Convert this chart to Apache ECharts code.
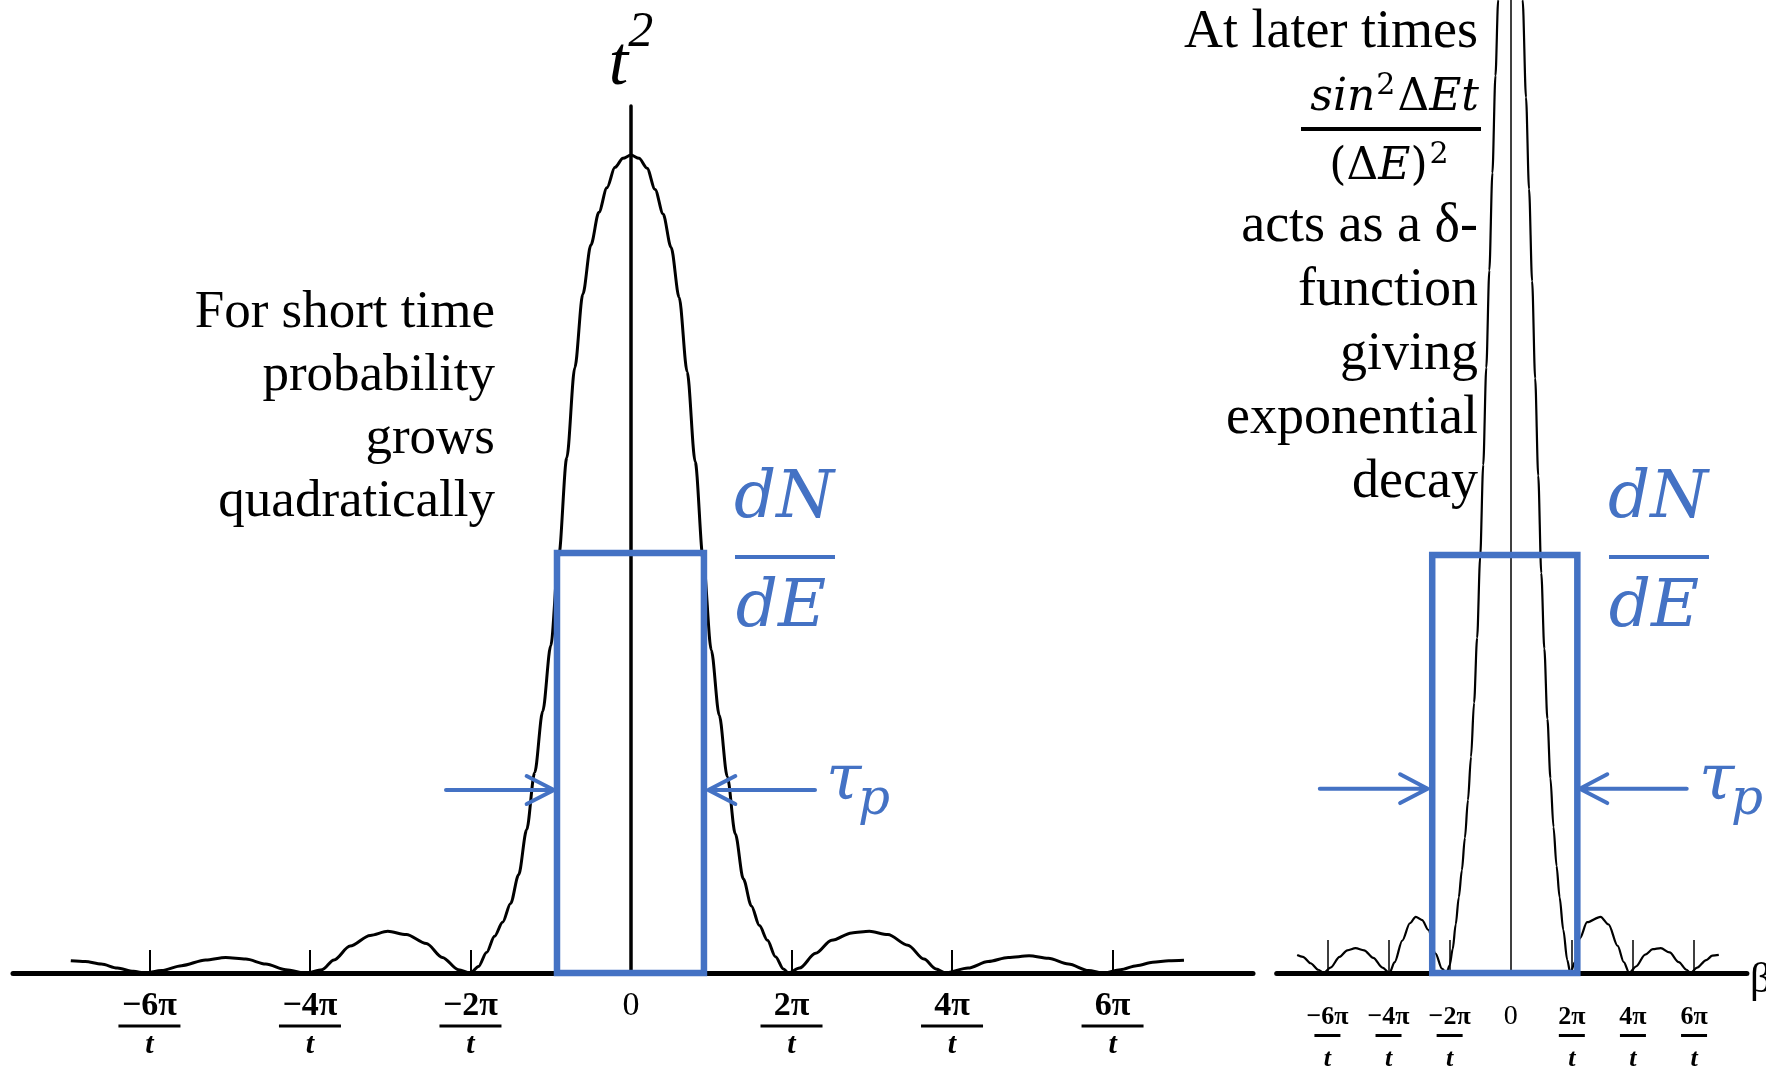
<!DOCTYPE html>
<html><head><meta charset="utf-8">
<script src="https://cdn.jsdelivr.net/npm/echarts@6/dist/echarts.min.js"></script>
<style>html,body{margin:0;padding:0;background:#fff}#c{width:1766px;height:1077px}</style>
</head><body><div id="c"></div>
<script>
// energy offset in units of pi/t, and relative probability
const leftE = [-6.98,-6.8,-6.6,-6.4,-6.2,-6.05,-5.85,-5.6,-5.3,-5.05,-4.8,-4.55,-4.3,-4.05,-3.85,-3.7,-3.5,-3.25,-3.03,-2.8,-2.55,-2.35,-2.15,-2.0,-1.9,-1.8,-1.7,-1.6,-1.5,-1.4,-1.3,-1.2,-1.1,-1.0,-0.9,-0.8,-0.7,-0.6,-0.5,-0.4,-0.3,-0.2,-0.1,0,0.1,0.2,0.3,0.4,0.5,0.6,0.7,0.8,0.9,1.0,1.1,1.2,1.3,1.4,1.5,1.6,1.7,1.8,1.9,1.96,2.1,2.3,2.5,2.75,2.97,3.2,3.45,3.65,3.8,3.92,4.2,4.45,4.7,4.96,5.2,5.45,5.7,5.88,6.1,6.3,6.5,6.7,6.89];
const leftP = [0.015,0.014,0.011,0.006,0.002,0,0.003,0.009,0.016,0.019,0.017,0.011,0.004,0,0.004,0.016,0.033,0.046,0.051,0.047,0.036,0.019,0.004,0,0.008,0.025,0.045,0.062,0.085,0.12,0.175,0.245,0.32,0.40,0.51,0.63,0.74,0.83,0.89,0.93,0.96,0.985,0.996,1.0,0.996,0.984,0.958,0.928,0.887,0.826,0.735,0.625,0.505,0.395,0.315,0.24,0.17,0.115,0.082,0.058,0.04,0.02,0.005,0,0.006,0.024,0.040,0.049,0.051,0.047,0.034,0.017,0.005,0,0.006,0.014,0.019,0.021,0.018,0.011,0.003,0,0.004,0.009,0.013,0.015,0.0156];

const rightE = [-6.99,-6.8,-6.55,-6.3,-6.12,-5.9,-5.6,-5.35,-5.08,-4.8,-4.5,-4.2,-3.97,-3.8,-3.55,-3.3,-3.11,-2.9,-2.7,-2.46,-2.25,-2.1,-2.0,-1.9,-1.8,-1.7,-1.6,-1.5,-1.4,-1.3,-1.2,-1.1,-1.0,-0.9,-0.8,-0.7,-0.6,-0.5,-0.41,0,0.39,0.5,0.6,0.7,0.8,0.9,1.0,1.1,1.2,1.3,1.4,1.5,1.6,1.72,1.85,1.95,2.1,2.26,2.5,2.94,3.2,3.5,3.7,3.88,4.1,4.4,4.65,4.91,5.2,5.5,5.75,5.89,6.1,6.4,6.6,6.81];
const rightP = [0.0167,0.015,0.009,0.003,0,0.005,0.015,0.021,0.023,0.021,0.014,0.005,0,0.010,0.030,0.046,0.052,0.049,0.040,0.018,0.004,0,0.007,0.022,0.045,0.07,0.095,0.125,0.16,0.20,0.25,0.31,0.385,0.47,0.56,0.65,0.74,0.83,0.90,1.1,0.90,0.81,0.725,0.64,0.55,0.46,0.37,0.30,0.235,0.18,0.135,0.099,0.07,0.04,0.012,0,0.01,0.032,0.047,0.052,0.045,0.025,0.010,0,0.006,0.017,0.022,0.023,0.019,0.010,0.003,0,0.005,0.012,0.016,0.0167];

const tickValues = [-6,-4,-2,0,2,4,6];
const tickLabels = ['−6π','−4π','−2π','0','2π','4π','6π'];
const tickDenom = 't';

// the dN/dE window and the tau_p arrows, in axis units
const leftBoxE = [-0.922, 0.909], leftBoxP = 0.5135;
const rightBoxE = [-2.57, 2.18], rightBoxP = 0.3866;
const leftArrowP = 0.2237, leftArrowHead = 0.0171;
const leftArrowInE = [-2.305, -0.96, -1.30], leftArrowOutE = [2.293, 0.963, 1.30];
const rightArrowP = 0.1705, rightArrowHead = 0.0133;
const rightArrowInE = [-6.25, -2.72, -3.62], rightArrowOutE = [5.76, 2.26, 3.16];

const BLUE = '#4472C4';
const zip = (a, b) => a.map((v, i) => [v, b[i]]);
const boxData = (E, P) => { const m = (E[0] + E[1]) / 2; return [[m,0],[E[0],0],[E[0],P],[E[1],P],[E[1],0],[m,0]]; };
const arrowData = (A, P, d) => [[A[0],P],[A[1],P],[A[2],P+d],[A[1],P],[A[2],P-d]];

function labelFmt(v) {
  const i = tickValues.indexOf(v);
  if (i < 0) return '';
  if (v === 0) return '{z|' + tickLabels[i] + '}';
  return '{n|' + tickLabels[i] + '}\n{b| }\n{d|' + tickDenom + '}';
}

const serif = '"Liberation Serif", "Times New Roman", serif';
const mathF = '"DejaVu Serif", serif';

const chart = echarts.init(document.getElementById('c'), null, {renderer: 'canvas'});
chart.setOption({
  animation: false,
  backgroundColor: '#fff',
  grid: [
    {left: 13, top: 106, width: 1240, height: 867, containLabel: false, outerBoundsMode: 'none'},
    {left: 1276.7, top: 0, width: 470.2, height: 973, containLabel: false, outerBoundsMode: 'none'}
  ],
  xAxis: [
    {type: 'value', gridIndex: 0, min: -7.7, max: 7.75,
     axisLine: {lineStyle: {color: '#000', width: 5}},
     axisTick: {show: true, customValues: [-6,-4,-2,2,4,6], inside: true, length: 23, lineStyle: {color: '#000', width: 2}},
     axisLabel: {customValues: tickValues, formatter: labelFmt, margin: 18, color: '#000',
       rich: {
         n: {fontFamily: serif, fontWeight: 'bold', fontSize: 34, lineHeight: 31, color: '#000'},
         z: {fontFamily: serif, fontSize: 34, lineHeight: 31, color: '#000'},
         b: {width: 62, height: 3, backgroundColor: '#000', fontSize: 1, lineHeight: 8},
         d: {fontFamily: serif, fontWeight: 'bold', fontStyle: 'italic', fontSize: 30, lineHeight: 30, color: '#000'}
       }},
     splitLine: {show: false}},
    {type: 'value', gridIndex: 1, min: -7.66, max: 7.73,
     name: '{b|β}', nameLocation: 'end', nameGap: 3,
     nameTextStyle: {rich: {b: {fontFamily: serif, fontSize: 42, lineHeight: 42, padding: [16,0,0,0], color: '#000'}}},
     axisLine: {lineStyle: {color: '#000', width: 5}},
     axisTick: {show: true, customValues: [-6,-4,-2,2,4,6], inside: true, length: 33, lineStyle: {color: '#000', width: 1.5}},
     axisLabel: {customValues: tickValues, formatter: labelFmt, margin: 31, color: '#000',
       rich: {
         n: {fontFamily: serif, fontWeight: 'bold', fontSize: 26, lineHeight: 26, color: '#000'},
         z: {fontFamily: serif, fontSize: 28, lineHeight: 26, color: '#000'},
         b: {width: 26, height: 3, backgroundColor: '#000', fontSize: 1, lineHeight: 11},
         d: {fontFamily: serif, fontWeight: 'bold', fontStyle: 'italic', fontSize: 26, lineHeight: 36, color: '#000'}
       }},
     splitLine: {show: false}}
  ],
  yAxis: [
    {type: 'value', gridIndex: 0, min: 0, max: 1.06,
     name: '{t|t}{s|2}', nameLocation: 'end', nameGap: 4,
     nameTextStyle: {rich: {
       t: {fontFamily: serif, fontStyle: 'italic', fontSize: 70, lineHeight: 72, color: '#000'},
       s: {fontFamily: serif, fontStyle: 'italic', fontSize: 50, lineHeight: 50, padding: [0,0,66,0], color: '#000'}
     }},
     axisLine: {show: true, lineStyle: {color: '#000', width: 3.5}},
     axisTick: {show: false}, axisLabel: {show: false}, splitLine: {show: false}},
    {type: 'value', gridIndex: 1, min: 0, max: 0.9,
     axisLine: {show: true, lineStyle: {color: '#000', width: 1.5}},
     axisTick: {show: false}, axisLabel: {show: false}, splitLine: {show: false}}
  ],
  series: [
    {type: 'line', xAxisIndex: 0, yAxisIndex: 0, data: zip(leftE, leftP), showSymbol: false,
     smooth: 0.3, smoothMonotone: 'x', clip: false, z: 3,
     lineStyle: {color: '#000', width: 3}},
    {type: 'line', xAxisIndex: 0, yAxisIndex: 0, data: boxData(leftBoxE, leftBoxP), showSymbol: false,
     clip: false, z: 4, lineStyle: {color: BLUE, width: 6.5, join: 'miter'}},
    {type: 'line', xAxisIndex: 0, yAxisIndex: 0, data: arrowData(leftArrowInE, leftArrowP, leftArrowHead), showSymbol: false,
     clip: false, z: 4, lineStyle: {color: BLUE, width: 4, cap: 'round', join: 'round'}},
    {type: 'line', xAxisIndex: 0, yAxisIndex: 0, data: arrowData(leftArrowOutE, leftArrowP, leftArrowHead), showSymbol: false,
     clip: false, z: 4, lineStyle: {color: BLUE, width: 4, cap: 'round', join: 'round'}},
    {type: 'line', xAxisIndex: 1, yAxisIndex: 1, data: zip(rightE, rightP), showSymbol: false,
     smooth: 0.3, smoothMonotone: 'x', clip: true, z: 3,
     lineStyle: {color: '#000', width: 2.2}},
    {type: 'line', xAxisIndex: 1, yAxisIndex: 1, data: boxData(rightBoxE, rightBoxP), showSymbol: false,
     clip: false, z: 4, lineStyle: {color: BLUE, width: 6.5, join: 'miter'}},
    {type: 'line', xAxisIndex: 1, yAxisIndex: 1, data: arrowData(rightArrowInE, rightArrowP, rightArrowHead), showSymbol: false,
     clip: false, z: 4, lineStyle: {color: BLUE, width: 4, cap: 'round', join: 'round'}},
    {type: 'line', xAxisIndex: 1, yAxisIndex: 1, data: arrowData(rightArrowOutE, rightArrowP, rightArrowHead), showSymbol: false,
     clip: false, z: 4, lineStyle: {color: BLUE, width: 4, cap: 'round', join: 'round'}}
  ],
  graphic: [
    {type: 'text', x: 495, y: 281, style: {text: 'For short time\nprobability\ngrows\nquadratically',
      font: '53px ' + serif, fill: '#000', align: 'right', verticalAlign: 'top', textAlign: 'right', textVerticalAlign: 'top', lineHeight: 63.3}},
    {type: 'text', x: 1478, y: 33, style: {text: 'At later times', font: '54px ' + serif, fill: '#000',
      align: 'right', verticalAlign: 'middle', textAlign: 'right', textVerticalAlign: 'middle'}},
    {type: 'text', x: 1479, y: 99, style: {text: '{i|sin}{sup|2}{u|Δ}{i|Et}', fill: '#000', align: 'right', verticalAlign: 'middle', textAlign: 'right', textVerticalAlign: 'middle',
      rich: {i: {fontFamily: mathF, fontStyle: 'italic', fontSize: 44, lineHeight: 50},
             u: {fontFamily: mathF, fontSize: 44, lineHeight: 50},
             sup: {fontFamily: mathF, fontSize: 30, lineHeight: 30, padding: [0,2,26,1]}}}},
    {type: 'rect', shape: {x: 1301, y: 127, width: 180, height: 4}, style: {fill: '#000'}},
    {type: 'text', x: 1389, y: 168, style: {text: '{u|(Δ}{i|E}{u|)}{sup|2}', fill: '#000', align: 'center', verticalAlign: 'middle', textAlign: 'center', textVerticalAlign: 'middle',
      rich: {i: {fontFamily: mathF, fontStyle: 'italic', fontSize: 44, lineHeight: 50},
             u: {fontFamily: mathF, fontSize: 44, lineHeight: 50},
             sup: {fontFamily: mathF, fontSize: 30, lineHeight: 30, padding: [0,0,26,2]}}}},
    {type: 'text', x: 1478, y: 195, style: {text: 'acts as a δ-\nfunction\ngiving\nexponential\ndecay',
      font: '54px ' + serif, fill: '#000', align: 'right', verticalAlign: 'top', textAlign: 'right', textVerticalAlign: 'top', lineHeight: 64}},
    // blue labels
    {type: 'text', x: 784, y: 500, style: {text: 'dN', font: 'italic 66px ' + mathF, fill: BLUE, align: 'center', verticalAlign: 'middle', textAlign: 'center', textVerticalAlign: 'middle'}},
    {type: 'rect', shape: {x: 735, y: 555, width: 100, height: 4}, style: {fill: BLUE}},
    {type: 'text', x: 781, y: 609, style: {text: 'dE', font: 'italic 66px ' + mathF, fill: BLUE, align: 'center', verticalAlign: 'middle', textAlign: 'center', textVerticalAlign: 'middle'}},
    {type: 'text', x: 826, y: 782, style: {text: 'τ', font: 'italic 64px ' + mathF, fill: BLUE, align: 'left', verticalAlign: 'middle', textAlign: 'left', textVerticalAlign: 'middle'}},
    {type: 'text', x: 858, y: 801, style: {text: 'p', font: 'italic 50px ' + mathF, fill: BLUE, align: 'left', verticalAlign: 'middle', textAlign: 'left', textVerticalAlign: 'middle'}},
    {type: 'text', x: 1658, y: 500, style: {text: 'dN', font: 'italic 66px ' + mathF, fill: BLUE, align: 'center', verticalAlign: 'middle', textAlign: 'center', textVerticalAlign: 'middle'}},
    {type: 'rect', shape: {x: 1609, y: 555, width: 100, height: 4}, style: {fill: BLUE}},
    {type: 'text', x: 1654, y: 609, style: {text: 'dE', font: 'italic 66px ' + mathF, fill: BLUE, align: 'center', verticalAlign: 'middle', textAlign: 'center', textVerticalAlign: 'middle'}},
    {type: 'text', x: 1699, y: 782, style: {text: 'τ', font: 'italic 64px ' + mathF, fill: BLUE, align: 'left', verticalAlign: 'middle', textAlign: 'left', textVerticalAlign: 'middle'}},
    {type: 'text', x: 1731, y: 801, style: {text: 'p', font: 'italic 50px ' + mathF, fill: BLUE, align: 'left', verticalAlign: 'middle', textAlign: 'left', textVerticalAlign: 'middle'}}
  ]
});
</script>
</body></html>
